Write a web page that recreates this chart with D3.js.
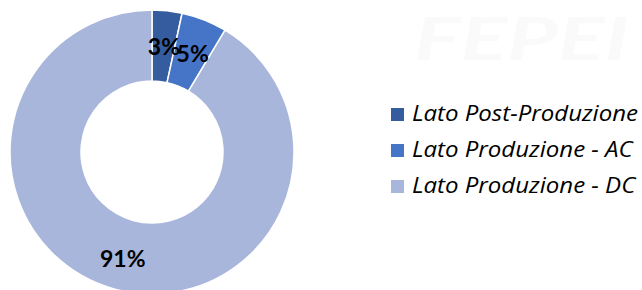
<!DOCTYPE html>
<html>
<head>
<meta charset="utf-8">
<script src="https://cdn.jsdelivr.net/npm/d3@7"></script>
<style>
  body { margin: 0; background: #fff; }
  svg { display: block; }
</style>
</head>
<body>
<svg id="canvas" width="642" height="290"></svg>
<script>
let categories = ['Lato Post-Produzione', 'Lato Produzione - AC', 'Lato Produzione - DC']
let values = [3.4, 5.2, 91.4]
let labels = ['3%', '5%', '91%']
let colors = ['#345c9e', '#4674c6', '#a8b6dc']

let canvas = d3.select('#canvas')

// faint watermark in the corner
canvas.append('text')
      .attr('x', 414)
      .attr('y', 60)
      .attr('font-family', 'Lato, sans-serif')
      .attr('font-weight', 'bold')
      .attr('font-style', 'italic')
      .attr('font-size', 60)
      .attr('textLength', 215)
      .attr('lengthAdjust', 'spacingAndGlyphs')
      .attr('fill', '#fafafa')
      .text('FEPEI')

let cx = 152
let cy = 152
let outerR = 142
let innerR = 71

let pie = d3.pie().sort(null).value((d) => d)
let arcs = pie(values)
let arc = d3.arc().innerRadius(innerR).outerRadius(outerR)

let g = canvas.append('g').attr('transform', 'translate(' + cx + ',' + cy + ')')

g.selectAll('path')
 .data(arcs)
 .enter()
 .append('path')
 .attr('d', arc)
 .attr('fill', (d, i) => colors[i])
 .attr('stroke', '#fff')
 .attr('stroke-width', 1.5)

// label positions, roughly where the original put them
let labelArc = d3.arc().innerRadius(outerR * 0.72).outerRadius(outerR * 0.72)
let labelShift = [[1, -3], [3, -3], [-2, 8]]

g.selectAll('text.lbl')
 .data(arcs)
 .enter()
 .append('text')
 .attr('class', 'lbl')
 .attr('transform', (d, i) => {
    let c = labelArc.centroid(d)
    return 'translate(' + (c[0] + labelShift[i][0]) + ',' + (c[1] + labelShift[i][1]) + ')'
 })
 .attr('text-anchor', 'middle')
 .attr('dy', '0.35em')
 .attr('font-family', 'Lato, sans-serif')
 .attr('font-weight', 'bold')
 .attr('font-size', 23)
 .attr('fill', '#000')
 .text((d, i) => labels[i])

let legend = canvas.append('g').attr('transform', 'translate(391,108)')

let rows = legend.selectAll('g')
      .data(categories)
      .enter()
      .append('g')
      .attr('transform', (d, i) => 'translate(0,' + i * 36 + ')')

rows.append('rect')
    .attr('width', 13)
    .attr('height', 13)
    .attr('fill', (d, i) => colors[i])

let legendText = rows.append('text')
    .attr('x', 21)
    .attr('y', 13)
    .attr('font-family', '"Open Sans", sans-serif')
    .attr('font-style', 'italic')
    .attr('font-size', 22)
    .attr('fill', '#000')
    .text((d) => d)

// the original font runs wider, stretch to match
let stretch = 226 / legendText.node().getComputedTextLength()
legendText.each(function () {
    d3.select(this).attr('textLength', this.getComputedTextLength() * stretch)
                   .attr('lengthAdjust', 'spacingAndGlyphs')
})
</script>
</body>
</html>
